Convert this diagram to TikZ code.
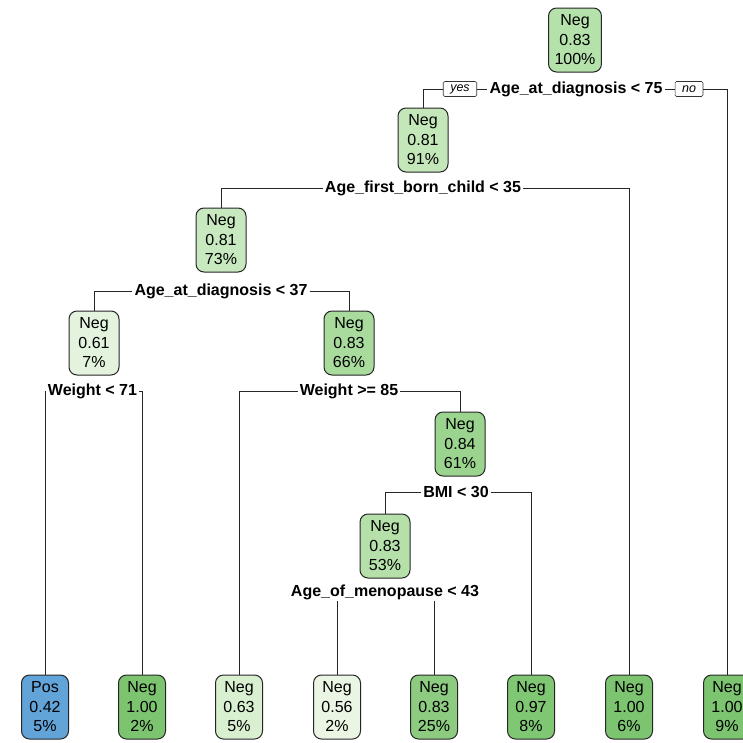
\documentclass[tikz,border=0pt]{standalone}
\usepackage{fontspec}
\setmainfont{Liberation Sans}
\begin{document}
\begin{tikzpicture}[x=1pt,y=-1pt,
  treebox/.style={draw=black!85, line width=1pt, rounded corners=8pt,
    align=center, inner xsep=6pt, inner ysep=3pt, minimum width=50pt,
    minimum height=64pt, font=\fontsize{16}{19.5}\selectfont},
  leafbox/.style={treebox, minimum width=47pt},
  splitlbl/.style={inner xsep=2pt, inner ysep=1pt,
    font=\fontsize{16}{19}\selectfont\bfseries},
  yesno/.style={draw=black!80, line width=0.6pt, rounded corners=1.5pt,
    inner xsep=7pt, inner ysep=1.5pt, minimum height=15pt,
    font=\fontsize{12.5}{14}\selectfont\itshape},
  branch/.style={draw=black!85, line width=0.9pt}]
\definecolor{gA}{RGB}{181,225,170}
\definecolor{gB}{RGB}{195,231,185}
\definecolor{gC}{RGB}{200,233,191}
\definecolor{gD}{RGB}{227,243,222}
\definecolor{gE}{RGB}{169,219,157}
\definecolor{gF}{RGB}{154,212,142}
\definecolor{gG}{RGB}{181,224,170}
\definecolor{gFull}{RGB}{124,196,111}
\definecolor{gNine}{RGB}{128,199,116}
\definecolor{gLeafA}{RGB}{216,239,208}
\definecolor{gLeafB}{RGB}{234,245,228}
\definecolor{gLeafC}{RGB}{140,203,128}
\definecolor{bPos}{RGB}{98,163,216}

\fill[white] (0,0) rectangle (743,742);
\useasboundingbox (0,0) rectangle (743,742);

% internal nodes
\node[treebox, fill=gA] (n1) at (575,40) {Neg\\0.83\\100\%};
\node[treebox, fill=gB] (n2) at (423,140) {Neg\\0.81\\91\%};
\node[treebox, fill=gC] (n3) at (221,240) {Neg\\0.81\\73\%};
\node[treebox, fill=gD] (n4) at (94,343) {Neg\\0.61\\7\%};
\node[treebox, fill=gE] (n5) at (349,343) {Neg\\0.83\\66\%};
\node[treebox, fill=gF] (n6) at (460,444) {Neg\\0.84\\61\%};
\node[treebox, fill=gG] (n7) at (385,546) {Neg\\0.83\\53\%};

% leaves
\node[leafbox, fill=bPos]   (l1) at (45,707)  {Pos\\0.42\\5\%};
\node[leafbox, fill=gFull]  (l2) at (142,707) {Neg\\1.00\\2\%};
\node[leafbox, fill=gLeafA] (l3) at (239,707) {Neg\\0.63\\5\%};
\node[leafbox, fill=gLeafB] (l4) at (337,707) {Neg\\0.56\\2\%};
\node[leafbox, fill=gLeafC] (l5) at (434,707) {Neg\\0.83\\25\%};
\node[leafbox, fill=gNine]  (l6) at (531,707) {Neg\\0.97\\8\%};
\node[leafbox, fill=gFull]  (l7) at (629,707) {Neg\\1.00\\6\%};
\node[leafbox, fill=gFull]  (l8) at (727,707) {Neg\\1.00\\9\%};

% split labels
\node[splitlbl] (s1) at (576,89)  {Age\_at\_diagnosis < 75};
\node[yesno] (yes) at (460,89) {yes};
\node[yesno] (no)  at (689,89) {no};
\node[splitlbl] (s2) at (423,188) {Age\_first\_born\_child < 35};
\node[splitlbl] (s3) at (221,291) {Age\_at\_diagnosis < 37};
\node[splitlbl] (s4) at (92.5,391) {Weight < 71};
\node[splitlbl] (s5) at (349,391) {Weight >= 85};
\node[splitlbl] (s6) at (456,492) {BMI < 30};
\node[splitlbl] (s7) at (385,592) {Age\_of\_menopause < 43};

% branches
\draw[branch] (yes.west) -| (n2.north);
\draw[branch] (yes.east) -- (s1.west);
\draw[branch] (s1.east) -- (no.west);
\draw[branch] (no.east) -| (l8.north);
\draw[branch] (s2.west) -| (n3.north);
\draw[branch] (s2.east) -| (l7.north);
\draw[branch] (s3.west) -| (n4.north);
\draw[branch] (s3.east) -| (n5.north);
\draw[branch] (s4.west) -| (l1.north);
\draw[branch] (s4.east) -| (l2.north);
\draw[branch] (s5.west) -| (l3.north);
\draw[branch] (s5.east) -| (n6.north);
\draw[branch] (s6.west) -| (n7.north);
\draw[branch] (s6.east) -| (l6.north);
% this label is wider than its two children, so the drops start below it
\draw[branch] (s7.south -| l4.north) -- (l4.north);
\draw[branch] (s7.south -| l5.north) -- (l5.north);
\end{tikzpicture}
\end{document}
